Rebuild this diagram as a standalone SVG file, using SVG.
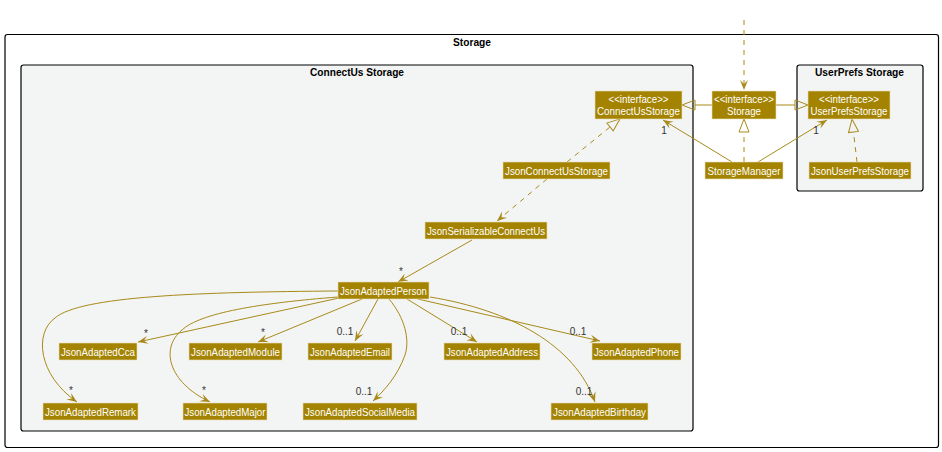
<svg xmlns="http://www.w3.org/2000/svg" width="942" height="452" viewBox="0 0 942 452">
<defs>
<style>
.pkg{stroke:#000;stroke-width:1.2}
.ttl{font-family:"Liberation Sans",Arial,sans-serif;font-size:11px;font-weight:bold;fill:#000;text-anchor:middle}
.n rect{fill:#A38300;stroke:#E9DFB8;stroke-width:0.6}
.n text{font-family:"Liberation Sans",Arial,sans-serif;font-size:10.5px;fill:#FFFFFF;text-anchor:middle}
.e{fill:none;stroke:#A88A1A;stroke-width:1}
.d{stroke-dasharray:5,5}
.lbl{font-family:"Liberation Sans",Arial,sans-serif;font-size:10px;fill:#333;text-anchor:middle}
</style>
<marker id="arr" markerUnits="userSpaceOnUse" markerWidth="14" markerHeight="14" refX="10" refY="5" orient="auto" overflow="visible">
<path d="M0,1 L10,5 L0,9 L4,5 Z" fill="#A88A1A"/>
</marker>
<marker id="tri" markerUnits="userSpaceOnUse" markerWidth="16" markerHeight="14" refX="0" refY="6" orient="auto" overflow="visible">
<path d="M0,1 L13,6 L0,11 Z" fill="none" stroke="#A88A1A" stroke-width="1"/>
</marker>
</defs>
<rect width="942" height="452" fill="#FFFFFF"/>

<g id="pkg-storage">
<rect class="pkg" x="5" y="34.5" width="933.5" height="413" rx="2.5" fill="#FFFFFF"/>
<text class="ttl" x="472" y="46" textLength="38" lengthAdjust="spacingAndGlyphs">Storage</text>
</g>
<g id="pkg-connectus">
<rect class="pkg" x="21" y="65" width="672" height="366" rx="2.5" fill="#F3F4F4"/>
<text class="ttl" x="357" y="76" textLength="94" lengthAdjust="spacingAndGlyphs">ConnectUs Storage</text>
</g>
<g id="pkg-userprefs">
<rect class="pkg" x="797" y="65" width="126" height="126" rx="2.5" fill="#F3F4F4"/>
<text class="ttl" x="859.5" y="76" textLength="89" lengthAdjust="spacingAndGlyphs">UserPrefs Storage</text>
</g>

<g id="connectors">
<path class="e d" d="M744,20 L744,90" marker-end="url(#arr)"/>
<path class="e" d="M712,105 L695,105" marker-end="url(#tri)"/>
<path class="e" d="M776,105 L795,105" marker-end="url(#tri)"/>
<path class="e d" d="M744,162 L744,132" marker-end="url(#tri)"/>
<path class="e" d="M732,162 L663,120" marker-end="url(#arr)"/>
<path class="e" d="M758,162 L827,120" marker-end="url(#arr)"/>
<path class="e d" d="M857,162 L853.5,132" marker-end="url(#tri)"/>
<path class="e d" d="M567,162 L610,127" marker-end="url(#tri)"/>
<path class="e d" d="M547,179 L497,221" marker-end="url(#arr)"/>
<path class="e" d="M472,240 L398,282" marker-end="url(#arr)"/>
<path class="e" d="M339,298 L138,342" marker-end="url(#arr)"/>
<path class="e" d="M362,299 L258,342" marker-end="url(#arr)"/>
<path class="e" d="M378,299 L355,341" marker-end="url(#arr)"/>
<path class="e" d="M407,299 L477,342" marker-end="url(#arr)"/>
<path class="e" d="M418,299 L600,341" marker-end="url(#arr)"/>
<path class="e" d="M389,299 C405,318 410,340 405,355 C398,375 385,390 373,401" marker-end="url(#arr)"/>
<path class="e" d="M430,297 C510,310 575,345 595,402" marker-end="url(#arr)"/>
<path class="e" d="M338,291 C200,292 80,296 55,318 C34,333 38,375 77,402" marker-end="url(#arr)"/>
<path class="e" d="M338,297 C260,303 200,313 182,330 C160,348 168,382 210,402" marker-end="url(#arr)"/>
<text class="lbl" x="664" y="134">1</text>
<text class="lbl" x="816" y="134">1</text>
<text class="lbl" x="401" y="275">*</text>
<text class="lbl" x="146" y="337">*</text>
<text class="lbl" x="263" y="336">*</text>
<text class="lbl" x="345" y="335">0..1</text>
<text class="lbl" x="459" y="335">0..1</text>
<text class="lbl" x="578" y="335">0..1</text>
<text class="lbl" x="71" y="394">*</text>
<text class="lbl" x="204" y="394">*</text>
<text class="lbl" x="364" y="395">0..1</text>
<text class="lbl" x="584" y="395">0..1</text>
</g>

<g id="ConnectUsStorage" class="n"><rect x="595" y="91" width="87" height="28"/><text x="638.5" y="103" textLength="60" lengthAdjust="spacingAndGlyphs">&lt;&lt;interface&gt;&gt;</text><text x="638.5" y="115" textLength="83" lengthAdjust="spacingAndGlyphs">ConnectUsStorage</text></g>
<g id="Storage" class="n"><rect x="712" y="91" width="64" height="28"/><text x="744" y="103" textLength="60" lengthAdjust="spacingAndGlyphs">&lt;&lt;interface&gt;&gt;</text><text x="744" y="115" textLength="34" lengthAdjust="spacingAndGlyphs">Storage</text></g>
<g id="UserPrefsStorage" class="n"><rect x="808" y="91" width="82" height="28"/><text x="849" y="103" textLength="60" lengthAdjust="spacingAndGlyphs">&lt;&lt;interface&gt;&gt;</text><text x="849" y="115" textLength="77" lengthAdjust="spacingAndGlyphs">UserPrefsStorage</text></g>
<g id="StorageManager" class="n"><rect x="705" y="162" width="78" height="17"/><text x="744" y="174.5" textLength="73" lengthAdjust="spacingAndGlyphs">StorageManager</text></g>
<g id="JsonUserPrefsStorage" class="n"><rect x="809" y="162" width="102" height="17"/><text x="860" y="174.5" textLength="98" lengthAdjust="spacingAndGlyphs">JsonUserPrefsStorage</text></g>
<g id="JsonConnectUsStorage" class="n"><rect x="503" y="162" width="107" height="17"/><text x="556.5" y="174.5" textLength="103" lengthAdjust="spacingAndGlyphs">JsonConnectUsStorage</text></g>
<g id="JsonSerializableConnectUs" class="n"><rect x="425" y="222" width="122" height="17"/><text x="486" y="234.5" textLength="118" lengthAdjust="spacingAndGlyphs">JsonSerializableConnectUs</text></g>
<g id="JsonAdaptedPerson" class="n"><rect x="338" y="282" width="91" height="17"/><text x="383.5" y="294.5" textLength="87" lengthAdjust="spacingAndGlyphs">JsonAdaptedPerson</text></g>
<g id="JsonAdaptedCca" class="n"><rect x="59" y="343" width="78" height="17"/><text x="98" y="355.5" textLength="74" lengthAdjust="spacingAndGlyphs">JsonAdaptedCca</text></g>
<g id="JsonAdaptedModule" class="n"><rect x="189" y="343" width="93" height="17"/><text x="235.5" y="355.5" textLength="89" lengthAdjust="spacingAndGlyphs">JsonAdaptedModule</text></g>
<g id="JsonAdaptedEmail" class="n"><rect x="308" y="343" width="84" height="17"/><text x="350" y="355.5" textLength="80" lengthAdjust="spacingAndGlyphs">JsonAdaptedEmail</text></g>
<g id="JsonAdaptedAddress" class="n"><rect x="444" y="343" width="96" height="17"/><text x="492" y="355.5" textLength="92" lengthAdjust="spacingAndGlyphs">JsonAdaptedAddress</text></g>
<g id="JsonAdaptedPhone" class="n"><rect x="592" y="343" width="89" height="17"/><text x="636.5" y="355.5" textLength="85" lengthAdjust="spacingAndGlyphs">JsonAdaptedPhone</text></g>
<g id="JsonAdaptedRemark" class="n"><rect x="43" y="403" width="95" height="17"/><text x="90.5" y="415.5" textLength="91" lengthAdjust="spacingAndGlyphs">JsonAdaptedRemark</text></g>
<g id="JsonAdaptedMajor" class="n"><rect x="183" y="403" width="84" height="17"/><text x="225" y="415.5" textLength="81" lengthAdjust="spacingAndGlyphs">JsonAdaptedMajor</text></g>
<g id="JsonAdaptedSocialMedia" class="n"><rect x="303" y="403" width="114" height="17"/><text x="360" y="415.5" textLength="110" lengthAdjust="spacingAndGlyphs">JsonAdaptedSocialMedia</text></g>
<g id="JsonAdaptedBirthday" class="n"><rect x="551" y="403" width="97" height="17"/><text x="599.5" y="415.5" textLength="93" lengthAdjust="spacingAndGlyphs">JsonAdaptedBirthday</text></g>
</svg>
